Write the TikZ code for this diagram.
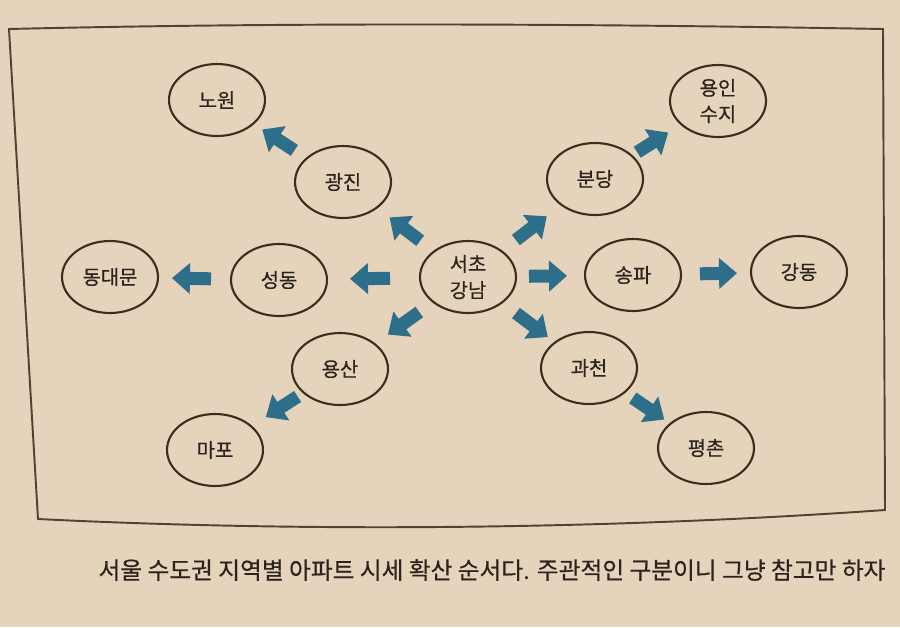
\documentclass[tikz,border=0pt]{standalone}
\usepackage{fontspec}
\setmainfont{Noto Sans CJK KR}
\newfontfamily\krm{Noto Sans CJK KR}[FakeBold=0.5]
\usetikzlibrary{shapes.geometric,arrows.meta}
\definecolor{paper}{HTML}{E6D3BB}
\definecolor{ink}{HTML}{2B231C}
\definecolor{rim}{HTML}{3E2D1F}
\definecolor{teal}{HTML}{2D6E8A}
\begin{document}
\begin{tikzpicture}[x=0.02cm, y=-0.02cm,
  every node/.style={text=ink, font=\krm\fontsize{11.3}{15}\selectfont},
  region/.style={ellipse, draw=rim, line width=1.2pt, minimum width=1.92cm, minimum height=1.44cm, inner sep=0pt, align=center},
  flow/.style={draw=teal, line width=0.26cm, -{Triangle[width=0.6cm,length=0.36cm]}}]
\fill[paper] (0,0) rectangle (900,627);
% page frame, bent a little by the page
\draw[rim!90, line width=1.1pt] (9,29) .. controls (300,22) and (600,24) .. (883,29) -- (885,510)
  .. controls (600,530) and (300,532) .. (38,519) -- cycle;
\foreach \n/\x/\y/\lab in {sc/468/277/{서초\\강남}, gj/343/182/광진, bd/595/179/분당, sd/279/280/성동,
  sp/633/275/송파, ys/340/369/용산, gc/589/368/과천, nw/217/100/노원, yi/718/101/{용인\\수지},
  dd/110/277/동대문, gd/799/272/강동, mp/215/450/마포, pc/706/448/평촌} {
  \node[region] (\n) at (\x,\y) {\lab};
}
\foreach \a/\b/\s/\e in {sc/gj/1.20/1.17, sc/bd/1.21/1.22, sc/sd/1.56/1.42, sc/sp/1.22/1.32,
  sc/ys/1.20/1.18, sc/gc/1.20/1.03, gj/nw/1.16/1.08, bd/yi/1.00/1.18,
  sd/dd/1.36/1.24, sp/gd/1.34/1.24, ys/mp/1.01/1.21, gc/pc/1.06/1.01} {
  \draw[flow, shorten <=\s cm, shorten >=\e cm] (\a.center) -- (\b.center);
}
\node[font=\krm\fontsize{13.5}{16}\selectfont] (caption) at (492,570) {서울 수도권 지역별 아파트 시세 확산 순서다. 주관적인 구분이니 그냥 참고만 하자};
\end{tikzpicture}
\end{document}
